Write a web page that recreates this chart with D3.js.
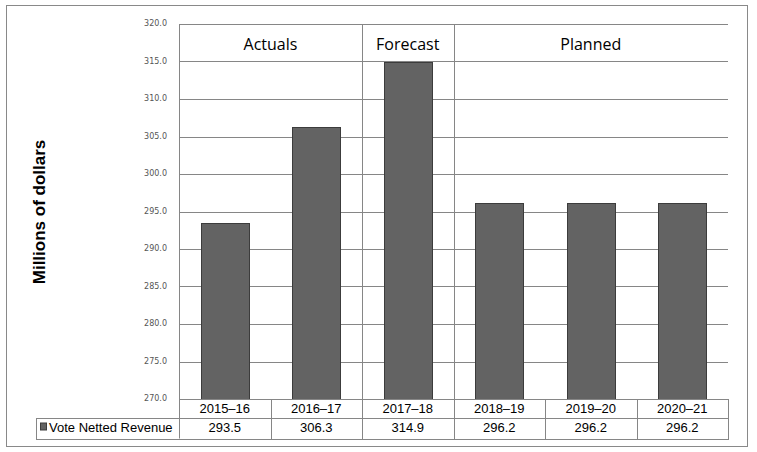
<!DOCTYPE html>
<html lang="en">
<head>
<meta charset="UTF-8">
<title>Vote Netted Revenue</title>
<script src="https://cdn.jsdelivr.net/npm/d3@7"></script>
<style>
    body{ margin:0; background:#fff; }
</style>
</head>
<body>
<script type="text/javascript">

    let categories = ["2015\u201316", "2016\u201317", "2017\u201318", "2018\u201319", "2019\u201320", "2020\u201321"];
    let values = [293.5, 306.3, 314.9, 296.2, 296.2, 296.2];
    let seriesName = "Vote Netted Revenue";
    let groupLabels = ["Actuals", "Forecast", "Planned"];
    let groupSpans = [2, 1, 3];
    let yTicks = [270, 275, 280, 285, 290, 295, 300, 305, 310, 315, 320];

    let width = 757, height = 452;
    let plotLeft = 179, plotRight = 728, plotTop = 24, plotBottom = 399;
    let rowH = [18.5, 21];
    let gridColor = "#868686";

    let svg = d3.select("body").append("svg")
        .attr("width", width)
        .attr("height", height);

    // outer frame
    svg.append("rect")
        .attr("x", 6.5).attr("y", 5.5)
        .attr("width", 741).attr("height", 441)
        .attr("fill", "#fff")
        .attr("stroke", "#898989");

    let x = d3.scaleBand()
        .domain(categories)
        .range([plotLeft, plotRight]);

    let y = d3.scaleLinear()
        .domain([270, 320])
        .range([plotBottom, plotTop]);

    // grid lines
    svg.append("g")
        .selectAll("line")
        .data(yTicks)
        .join("line")
        .attr("x1", plotLeft).attr("x2", plotRight)
        .attr("y1", d => Math.round(y(d)) + 0.5)
        .attr("y2", d => Math.round(y(d)) + 0.5)
        .attr("stroke", gridColor);

    // y axis labels
    let yAxis = d3.axisLeft(y)
        .tickValues(yTicks)
        .tickFormat(d3.format(".1f"))
        .tickSize(0)
        .tickPadding(12);
    let yg = svg.append("g")
        .attr("transform", `translate(${plotLeft},0)`)
        .call(yAxis);
    yg.select(".domain").remove();
    yg.selectAll("text")
        .attr("font-family", "DejaVu Sans")
        .attr("font-size", 8)
        .attr("fill", "#555")
        .attr("dy", "0.2em");

    // group separators and labels
    let starts = [];
    groupSpans.reduce((acc, s) => { starts.push(acc); return acc + s; }, 0);
    let groupEdges = starts.slice(1).map(i => Math.round(x(categories[i])) + 0.5);

    svg.append("g")
        .selectAll("line")
        .data(groupEdges)
        .join("line")
        .attr("x1", d => d).attr("x2", d => d)
        .attr("y1", plotTop).attr("y2", plotBottom)
        .attr("stroke", gridColor);

    svg.append("g")
        .selectAll("text")
        .data(groupLabels)
        .join("text")
        .attr("x", (d, i) => {
            let a = x(categories[starts[i]]);
            let b = x(categories[starts[i] + groupSpans[i] - 1]) + x.bandwidth();
            return (a + b) / 2;
        })
        .attr("y", (y(320) + y(315)) / 2 + 7.5)
        .attr("text-anchor", "middle")
        .attr("font-family", "Open Sans")
        .attr("font-size", 16)
        .attr("fill", "#000")
        .text(d => d);

    // bars
    let barW = x.bandwidth() * 0.52;
    svg.append("g")
        .selectAll("rect")
        .data(values)
        .join("rect")
        .attr("x", (d, i) => Math.round(x(categories[i]) + (x.bandwidth() - barW) / 2) + 0.5)
        .attr("y", d => Math.round(y(d)) + 0.5)
        .attr("width", Math.round(barW))
        .attr("height", d => plotBottom - Math.round(y(d)))
        .attr("fill", "#636363")
        .attr("stroke", "#3c3c3c")
        .attr("stroke-width", 1);

    // left axis line
    svg.append("line")
        .attr("x1", plotLeft + 0.5).attr("x2", plotLeft + 0.5)
        .attr("y1", plotTop).attr("y2", plotBottom + rowH[0] + rowH[1])
        .attr("stroke", gridColor);

    // data table
    let t0 = plotBottom, t1 = plotBottom + rowH[0], t2 = t1 + rowH[1];
    let legendLeft = 36;
    let table = svg.append("g");

    table.append("line")
        .attr("x1", plotLeft).attr("x2", plotRight)
        .attr("y1", t0 + 0.5).attr("y2", t0 + 0.5)
        .attr("stroke", gridColor);
    [t1, t2].forEach(yy => {
        table.append("line")
            .attr("x1", legendLeft).attr("x2", plotRight + 1)
            .attr("y1", Math.round(yy) + 0.5).attr("y2", Math.round(yy) + 0.5)
            .attr("stroke", gridColor);
    });
    table.append("line")
        .attr("x1", legendLeft + 0.5).attr("x2", legendLeft + 0.5)
        .attr("y1", Math.round(t1)).attr("y2", Math.round(t2) + 1)
        .attr("stroke", gridColor);

    table.selectAll("line.cell")
        .data(categories)
        .join("line")
        .attr("class", "cell")
        .attr("x1", d => Math.round(x(d) + x.bandwidth()) + 0.5)
        .attr("x2", d => Math.round(x(d) + x.bandwidth()) + 0.5)
        .attr("y1", t0).attr("y2", Math.round(t2) + 1)
        .attr("stroke", gridColor);

    table.selectAll("text.cat")
        .data(categories)
        .join("text")
        .attr("class", "cat")
        .attr("x", d => x(d) + x.bandwidth() / 2)
        .attr("y", t0 + 14)
        .attr("text-anchor", "middle")
        .attr("font-family", "Liberation Sans, Arial")
        .attr("font-size", 13)
        .attr("fill", "#000")
        .text(d => d);

    table.selectAll("text.val")
        .data(values)
        .join("text")
        .attr("class", "val")
        .attr("x", (d, i) => x(categories[i]) + x.bandwidth() / 2)
        .attr("y", t1 + 14.5)
        .attr("text-anchor", "middle")
        .attr("font-family", "Liberation Sans, Arial")
        .attr("font-size", 13)
        .attr("fill", "#000")
        .text(d => d.toFixed(1));

    // legend cell
    table.append("rect")
        .attr("x", legendLeft + 4.5).attr("y", t1 + 5.5)
        .attr("width", 6).attr("height", 7)
        .attr("fill", "#636363")
        .attr("stroke", "#3c3c3c");
    table.append("text")
        .attr("x", legendLeft + 13)
        .attr("y", t1 + 14.5)
        .attr("font-family", "Liberation Sans, Arial")
        .attr("font-size", 13)
        .attr("fill", "#000")
        .text(seriesName);

    // y axis title
    svg.append("text")
        .attr("transform", `translate(45,212) rotate(-90)`)
        .attr("text-anchor", "middle")
        .attr("font-family", "Liberation Sans, Arial")
        .attr("font-weight", "bold")
        .attr("font-size", 17)
        .attr("fill", "#000")
        .text("Millions of dollars");

</script>
</body>
</html>
